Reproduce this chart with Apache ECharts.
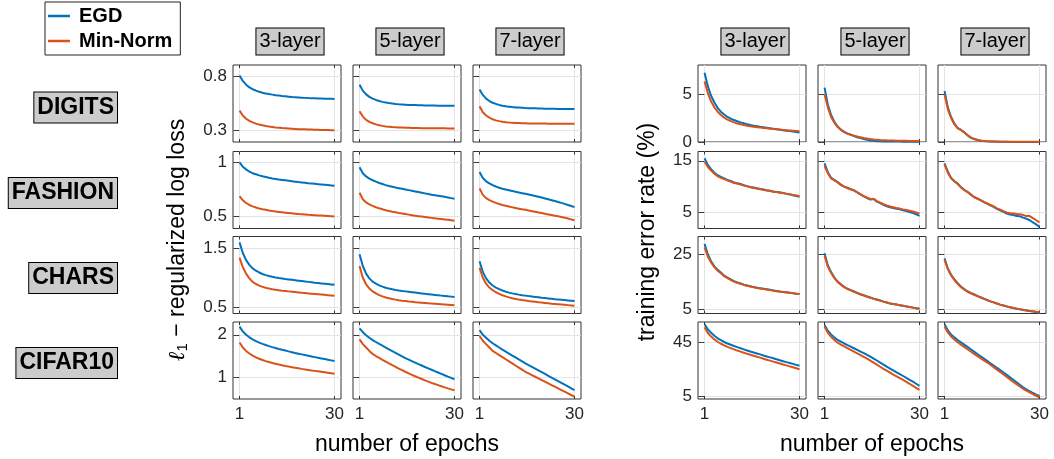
<!DOCTYPE html>
<html><head><meta charset="utf-8">
<script src="https://cdn.jsdelivr.net/npm/echarts@6/dist/echarts.min.js"></script>
<style>html,body{margin:0;padding:0;background:#fff}#c{width:1054px;height:459px}</style>
</head><body><div id="c"></div>
<script>
// ---------- DATA ----------
const epochs = [1,2,3,4,5,6,7,8,9,10,11,12,13,14,15,16,17,18,19,20,21,22,23,24,25,26,27,28,29,30];
const datasets = ['DIGITS','FASHION','CHARS','CIFAR10'];
const layers = ['3-layer','5-layer','7-layer'];
const methods = ['EGD','Min-Norm'];
const xTicks = [1,30];
const lossTicks = [[0.3,0.8],[0.5,1],[0.5,1.5],[1,2]];
const errTicks = [[0,5],[5,15],[5,25],[5,45]];
const lossRange = [[0.195,0.907],[0.39,1.1],[0.395,1.70],[0.49,2.3]];
const errRange = [[0,8],[1.9,16.8],[3.35,31.5],[3.3,59.9]];

// l1-regularized log loss, per dataset: [3-layer, 5-layer, 7-layer]
const loss_DIGITS_EGD = [
 [0.81,0.76,0.725,0.70,0.683,0.67,0.66,0.651,0.644,0.638,0.633,0.628,0.624,0.62,0.617,0.614,0.611,0.609,0.607,0.605,0.603,0.601,0.6,0.599,0.598,0.597,0.596,0.595,0.594,0.593],
 [0.724,0.67,0.635,0.612,0.596,0.584,0.574,0.566,0.56,0.555,0.551,0.547,0.544,0.542,0.54,0.538,0.537,0.536,0.535,0.534,0.533,0.533,0.532,0.532,0.531,0.531,0.531,0.53,0.53,0.53],
 [0.68,0.63,0.596,0.574,0.558,0.547,0.538,0.531,0.526,0.522,0.518,0.515,0.513,0.511,0.509,0.508,0.507,0.506,0.505,0.504,0.503,0.503,0.502,0.502,0.501,0.501,0.501,0.5,0.5,0.5]];
const loss_DIGITS_MN = [
 [0.485,0.44,0.41,0.39,0.376,0.365,0.356,0.349,0.343,0.338,0.334,0.33,0.327,0.324,0.322,0.32,0.318,0.316,0.314,0.313,0.312,0.311,0.31,0.309,0.308,0.307,0.306,0.305,0.304,0.303],
 [0.48,0.43,0.4,0.381,0.368,0.358,0.35,0.344,0.339,0.336,0.333,0.331,0.329,0.328,0.327,0.326,0.325,0.324,0.324,0.323,0.323,0.322,0.322,0.322,0.321,0.321,0.321,0.32,0.32,0.32],
 [0.525,0.47,0.44,0.42,0.405,0.395,0.388,0.382,0.378,0.375,0.373,0.371,0.37,0.369,0.368,0.367,0.366,0.366,0.365,0.365,0.365,0.364,0.364,0.364,0.364,0.363,0.363,0.363,0.363,0.363]];
const loss_FASHION_EGD = [
 [1.0,0.96,0.935,0.915,0.9,0.89,0.88,0.872,0.865,0.858,0.852,0.847,0.842,0.838,0.834,0.83,0.826,0.822,0.818,0.815,0.812,0.808,0.805,0.802,0.799,0.796,0.793,0.79,0.787,0.784],
 [0.954,0.9,0.87,0.85,0.835,0.822,0.81,0.8,0.79,0.782,0.775,0.768,0.762,0.756,0.75,0.744,0.738,0.732,0.726,0.72,0.714,0.708,0.702,0.697,0.692,0.687,0.682,0.676,0.67,0.664],
 [0.91,0.855,0.825,0.806,0.79,0.777,0.766,0.757,0.749,0.742,0.735,0.728,0.722,0.716,0.71,0.703,0.696,0.689,0.682,0.675,0.667,0.659,0.651,0.643,0.635,0.626,0.617,0.607,0.597,0.587]];
const loss_FASHION_MN = [
 [0.688,0.65,0.625,0.607,0.594,0.584,0.575,0.568,0.562,0.556,0.551,0.547,0.543,0.539,0.536,0.533,0.53,0.527,0.524,0.522,0.52,0.517,0.515,0.513,0.511,0.509,0.507,0.505,0.503,0.5],
 [0.72,0.66,0.63,0.612,0.598,0.586,0.576,0.567,0.559,0.552,0.545,0.539,0.533,0.528,0.523,0.518,0.513,0.508,0.504,0.5,0.496,0.492,0.488,0.484,0.481,0.478,0.474,0.47,0.466,0.462],
 [0.76,0.70,0.67,0.652,0.638,0.626,0.616,0.607,0.599,0.592,0.585,0.579,0.573,0.567,0.562,0.556,0.55,0.544,0.538,0.532,0.526,0.52,0.514,0.508,0.502,0.496,0.49,0.482,0.474,0.466]];
const loss_CHARS_EGD = [
 [1.6,1.42,1.3,1.22,1.16,1.12,1.09,1.065,1.045,1.03,1.017,1.006,0.996,0.988,0.98,0.973,0.966,0.959,0.952,0.945,0.938,0.931,0.924,0.917,0.911,0.905,0.899,0.893,0.887,0.881],
 [1.4,1.2,1.07,0.99,0.935,0.9,0.872,0.85,0.832,0.817,0.805,0.794,0.785,0.777,0.77,0.763,0.756,0.749,0.742,0.735,0.728,0.722,0.716,0.71,0.704,0.698,0.692,0.686,0.681,0.676],
 [1.28,1.1,0.99,0.92,0.87,0.835,0.807,0.784,0.765,0.749,0.736,0.725,0.715,0.706,0.698,0.69,0.683,0.676,0.669,0.662,0.656,0.65,0.644,0.638,0.633,0.628,0.623,0.617,0.611,0.605]];
const loss_CHARS_MN = [
 [1.34,1.18,1.07,0.99,0.93,0.895,0.868,0.847,0.83,0.817,0.806,0.797,0.789,0.782,0.776,0.77,0.764,0.758,0.752,0.746,0.741,0.736,0.731,0.726,0.721,0.716,0.711,0.706,0.701,0.696],
 [1.2,1.0,0.89,0.82,0.77,0.735,0.707,0.685,0.667,0.652,0.64,0.63,0.621,0.613,0.606,0.599,0.593,0.587,0.582,0.577,0.572,0.567,0.563,0.559,0.555,0.551,0.547,0.543,0.539,0.535],
 [1.17,1.0,0.9,0.835,0.79,0.755,0.727,0.704,0.685,0.668,0.654,0.642,0.632,0.623,0.615,0.607,0.6,0.593,0.586,0.58,0.574,0.568,0.562,0.557,0.552,0.547,0.542,0.537,0.532,0.527]];
const loss_CIFAR10_EGD = [
 [2.19,2.08,2.0,1.94,1.89,1.85,1.815,1.785,1.758,1.733,1.71,1.688,1.667,1.647,1.628,1.609,1.591,1.573,1.556,1.539,1.522,1.506,1.49,1.474,1.458,1.443,1.428,1.413,1.398,1.383],
 [2.15,2.06,1.99,1.93,1.875,1.83,1.785,1.742,1.70,1.658,1.616,1.575,1.534,1.493,1.453,1.417,1.381,1.346,1.311,1.277,1.243,1.21,1.177,1.144,1.112,1.08,1.048,1.016,0.985,0.955],
 [2.11,2.0,1.93,1.86,1.8,1.75,1.7,1.652,1.605,1.558,1.512,1.466,1.42,1.375,1.33,1.288,1.246,1.204,1.162,1.12,1.078,1.036,0.994,0.952,0.91,0.868,0.826,0.784,0.742,0.70]];
const loss_CIFAR10_MN = [
 [1.82,1.7,1.62,1.56,1.51,1.47,1.436,1.407,1.381,1.358,1.337,1.318,1.3,1.283,1.267,1.252,1.238,1.224,1.211,1.198,1.186,1.174,1.162,1.151,1.14,1.129,1.118,1.107,1.096,1.085],
 [1.89,1.78,1.7,1.62,1.55,1.5,1.455,1.412,1.37,1.328,1.287,1.246,1.206,1.167,1.13,1.094,1.059,1.025,0.992,0.96,0.929,0.899,0.87,0.842,0.815,0.789,0.764,0.74,0.717,0.695],
 [1.97,1.86,1.78,1.7,1.62,1.571,1.522,1.473,1.424,1.375,1.326,1.277,1.228,1.179,1.13,1.091,1.052,1.013,0.974,0.935,0.896,0.857,0.818,0.779,0.74,0.701,0.662,0.623,0.584,0.545]];

// training error rate (%), per dataset: [3-layer, 5-layer, 7-layer]
const err_DIGITS_EGD = [
 [7.2,5.8,4.8,4.1,3.55,3.15,2.85,2.6,2.42,2.28,2.15,2.04,1.94,1.85,1.77,1.7,1.64,1.58,1.53,1.48,1.43,1.38,1.33,1.28,1.23,1.18,1.13,1.08,1.03,0.98],
 [5.65,3.9,2.8,2.1,1.6,1.3,1.05,0.88,0.75,0.62,0.5,0.4,0.3,0.22,0.16,0.12,0.09,0.07,0.06,0.05,0.05,0.04,0.04,0.04,0.03,0.03,0.03,0.03,0.03,0.03],
 [5.3,3.6,2.6,1.9,1.45,1.25,1.0,0.7,0.45,0.3,0.2,0.14,0.1,0.07,0.05,0.04,0.03,0.02,0.02,0.02,0.01,0.01,0.01,0.01,0.01,0.01,0.01,0.01,0.01,0.01]];
const err_DIGITS_MN = [
 [6.3,5.1,4.2,3.6,3.15,2.8,2.53,2.33,2.17,2.04,1.93,1.84,1.76,1.69,1.63,1.58,1.54,1.5,1.46,1.42,1.38,1.35,1.32,1.29,1.26,1.23,1.2,1.17,1.14,1.11],
 [4.95,3.6,2.6,2.0,1.55,1.25,1.02,0.87,0.76,0.66,0.57,0.49,0.42,0.36,0.31,0.27,0.24,0.21,0.19,0.17,0.16,0.15,0.14,0.13,0.12,0.12,0.11,0.11,0.1,0.1],
 [4.95,3.4,2.5,1.85,1.45,1.25,1.02,0.72,0.48,0.33,0.23,0.16,0.11,0.08,0.06,0.05,0.04,0.03,0.03,0.03,0.02,0.02,0.02,0.02,0.02,0.02,0.02,0.02,0.02,0.02]];
const err_FASHION_EGD = [
 [15.5,14.2,13.4,12.7,12.2,11.9,11.6,11.3,11.1,10.8,10.65,10.5,10.3,10.1,9.95,9.85,9.7,9.55,9.45,9.3,9.2,9.05,8.95,8.85,8.75,8.6,8.5,8.35,8.2,8.05],
 [14.5,12.8,11.7,11.3,10.9,10.4,10.0,9.8,9.5,9.3,8.9,8.5,8.1,7.8,7.5,7.6,7.1,6.8,6.5,6.2,6.0,5.85,5.7,5.6,5.45,5.3,5.1,4.9,4.65,4.35],
 [14.5,12.9,11.7,11.1,10.6,9.9,9.4,9.0,8.5,8.0,7.7,7.4,7.0,6.7,6.4,6.1,5.7,5.4,5.1,4.8,4.6,4.5,4.3,4.25,4.0,3.8,3.5,3.1,2.7,2.2]];
const err_FASHION_MN = [
 [14.8,13.8,13.1,12.5,12.0,11.7,11.45,11.2,11.0,10.7,10.6,10.4,10.2,10.05,9.9,9.75,9.65,9.5,9.4,9.25,9.15,9.0,8.95,8.85,8.75,8.65,8.55,8.4,8.3,8.2],
 [14.0,12.6,11.6,11.2,10.8,10.3,10.0,9.7,9.5,9.25,8.9,8.5,8.15,7.85,7.6,7.65,7.2,6.9,6.6,6.35,6.15,6.0,5.85,5.75,5.6,5.5,5.35,5.2,5.0,4.8],
 [14.3,12.7,11.6,11.0,10.5,9.85,9.35,8.95,8.45,8.0,7.7,7.4,7.05,6.75,6.45,6.2,5.8,5.55,5.25,5.0,4.85,4.8,4.7,4.65,4.5,4.3,4.3,3.9,3.5,3.1]];
const err_CHARS_EGD = [
 [28.8,25.0,22.4,20.6,19.3,18.3,17.2,16.5,15.8,15.2,14.7,14.3,13.9,13.6,13.3,13.0,12.8,12.6,12.4,12.2,12.0,11.8,11.6,11.4,11.25,11.1,10.95,10.8,10.6,10.45],
 [25.4,21.0,18.5,16.5,15.0,14.0,13.1,12.4,11.9,11.4,10.9,10.4,10.0,9.6,9.2,8.8,8.45,8.1,7.7,7.35,7.0,6.8,6.6,6.4,6.15,5.9,5.7,5.5,5.3,5.1],
 [23.5,19.8,17.5,15.8,14.4,13.2,12.3,11.5,10.9,10.4,9.8,9.3,8.8,8.3,7.8,7.4,7.0,6.6,6.25,5.9,5.6,5.35,5.1,4.9,4.65,4.45,4.25,4.05,3.9,3.75]];
const err_CHARS_MN = [
 [27.5,24.2,22.0,20.3,19.0,18.1,17.0,16.3,15.6,15.0,14.6,14.2,13.8,13.5,13.2,12.95,12.7,12.5,12.3,12.1,11.9,11.7,11.5,11.35,11.2,11.05,10.9,10.75,10.6,10.45],
 [24.5,20.5,18.2,16.3,14.9,13.9,13.0,12.3,11.8,11.3,10.8,10.3,9.9,9.5,9.1,8.75,8.4,8.05,7.7,7.35,7.05,6.85,6.6,6.4,6.15,5.95,5.7,5.5,5.3,5.05],
 [23.0,19.6,17.3,15.6,14.2,13.0,12.1,11.3,10.7,10.2,9.7,9.2,8.7,8.25,7.8,7.4,7.0,6.6,6.25,5.95,5.65,5.4,5.15,4.95,4.7,4.5,4.3,4.15,3.95,3.8]];
const err_CIFAR10_EGD = [
 [58.2,54.5,52.0,49.8,47.9,46.5,45.2,44.1,43.2,42.3,41.4,40.6,39.8,39.0,38.2,37.5,36.8,36.1,35.3,34.6,33.9,33.2,32.5,31.8,31.1,30.4,29.8,29.1,28.4,27.7],
 [57.7,53.5,50.8,48.6,46.7,45.4,44.1,42.9,41.8,40.6,39.4,38.2,37.0,35.7,34.4,33.0,31.6,30.1,28.6,27.1,25.7,24.3,22.9,21.6,20.2,18.8,17.4,16.0,14.5,13.0],
 [58.2,53.8,50.8,48.6,46.7,45.0,43.3,41.6,39.9,38.1,36.4,34.7,33.0,31.3,29.6,27.9,26.2,24.5,22.8,21.0,19.2,17.4,15.6,13.8,11.9,10.4,9.0,7.7,6.5,5.5]];
const err_CIFAR10_MN = [
 [56.0,51.8,49.2,47.1,45.4,43.9,42.7,41.6,40.7,39.8,38.9,38.1,37.3,36.5,35.8,35.1,34.4,33.7,32.9,32.2,31.5,30.8,30.1,29.4,28.7,28.0,27.3,26.6,25.9,25.2],
 [56.5,52.0,49.0,46.7,44.7,43.3,42.0,40.7,39.4,38.1,36.8,35.5,34.2,32.9,31.5,30.0,28.5,27.0,25.5,24.1,22.7,21.3,20.0,18.6,17.3,15.9,14.5,13.0,11.5,10.0],
 [56.5,52.2,49.3,47.0,45.0,43.3,41.6,39.9,38.2,36.5,34.9,33.3,31.7,30.1,28.5,26.7,24.9,23.1,21.3,19.5,17.7,15.9,14.2,12.5,10.8,9.4,8.1,6.9,5.7,4.6]];

const lossData = [[loss_DIGITS_EGD,loss_DIGITS_MN],[loss_FASHION_EGD,loss_FASHION_MN],[loss_CHARS_EGD,loss_CHARS_MN],[loss_CIFAR10_EGD,loss_CIFAR10_MN]];
const errData = [[err_DIGITS_EGD,err_DIGITS_MN],[err_FASHION_EGD,err_FASHION_MN],[err_CHARS_EGD,err_CHARS_MN],[err_CIFAR10_EGD,err_CIFAR10_MN]];

// ---------- LAYOUT / STYLE ----------
const FONT = '"Liberation Sans", Arial, Helvetica, sans-serif';
const COLORS = ['#0072BD', '#D95319'];
const groups = [
  {cols:[233,353,473], data:lossData, ticks:lossTicks, range:lossRange},
  {cols:[698,818,938], data:errData, ticks:errTicks, range:errRange}
];
const rowTops = [65,151.5,236.5,322];
const PW = 108, PH = 77;
const AX = '#333333', TXT = '#262626', GRIDC = '#e3e3e3';

const option = {
  animation:false, backgroundColor:'#ffffff',
  grid:[], xAxis:[], yAxis:[], series:[], graphic:[],
  legend:{
    data:methods, left:45, top:2, orient:'vertical', selectedMode:false,
    icon:'rect', itemWidth:22, itemHeight:2.5, itemGap:5,
    padding:[4,8,4,3], borderColor:'#222', borderWidth:1, backgroundColor:'#fff',
    textStyle:{fontFamily:FONT, fontSize:20, fontWeight:'bold', color:'#000', padding:[0,0,0,4]}
  }
};

groups.forEach((g)=>{
  for(let r=0;r<4;r++){
    for(let c=0;c<3;c++){
      const gi = option.grid.length;
      option.grid.push({left:g.cols[c], top:rowTops[r], width:PW, height:PH, show:true,
        borderColor:AX, borderWidth:1, backgroundColor:'#fff'});
      const xi = option.xAxis.length;
      option.xAxis.push({gridIndex:gi, type:'value', min:-1, max:32, position:'bottom',
        axisLine:{show:false},
        axisTick:{show:true, inside:true, length:3, customValues:xTicks, lineStyle:{color:AX}},
        axisLabel:{show:r===3, customValues:xTicks, margin:7, color:TXT, fontSize:17, fontFamily:FONT},
        splitLine:{show:true, lineStyle:{color:GRIDC, width:1}}});
      option.xAxis.push({gridIndex:gi, type:'value', min:-1, max:32, position:'top',
        axisLine:{show:false},
        axisTick:{show:true, inside:true, length:3, customValues:xTicks, lineStyle:{color:AX}},
        axisLabel:{show:false}, splitLine:{show:false}});
      const yi = option.yAxis.length;
      option.yAxis.push({gridIndex:gi, type:'value', min:g.range[r][0], max:g.range[r][1], position:'left',
        axisLine:{show:false},
        axisTick:{show:true, inside:true, length:3, customValues:g.ticks[r], lineStyle:{color:AX}},
        axisLabel:{show:c===0, customValues:g.ticks[r], margin:6, color:TXT, fontSize:17, fontFamily:FONT},
        splitLine:{show:true, lineStyle:{color:GRIDC, width:1}}});
      option.yAxis.push({gridIndex:gi, type:'value', min:g.range[r][0], max:g.range[r][1], position:'right',
        axisLine:{show:false},
        axisTick:{show:true, inside:true, length:3, customValues:g.ticks[r], lineStyle:{color:AX}},
        axisLabel:{show:false}, splitLine:{show:false}});
      for(let m=0;m<2;m++){
        const vals = g.data[r][m][c];
        option.series.push({type:'line', name:methods[m], xAxisIndex:xi, yAxisIndex:yi,
          data:epochs.map((e,i)=>[e, vals[i]]), showSymbol:false, symbol:'none', clip:true,
          lineStyle:{color:COLORS[m], width:2}, itemStyle:{color:COLORS[m]}, z:2+m});
      }
    }
  }
  g.cols.forEach((x,c)=>{
    option.graphic.push({type:'text', x:x+PW/2+3, y:41.5, z:10, style:{text:layers[c],
      font:'20px '+FONT, fill:'#000', align:'center', verticalAlign:'middle',
      backgroundColor:'#cccccc', borderColor:'#000', borderWidth:1, padding:[3,3,3,3]}});
  });
});

// row labels
const rowLabelY = [107.5,193,278,363];
datasets.forEach((d,r)=>{
  option.graphic.push({type:'text', x:117, y:rowLabelY[r], z:10, style:{text:d,
    font:'bold 23px '+FONT, fill:'#000', align:'right', verticalAlign:'middle',
    backgroundColor:'#cccccc', borderColor:'#000', borderWidth:1, padding:[4,3,3,3]}});
});

// axis titles
option.graphic.push({type:'text', x:178, y:240, rotation:Math.PI/2, z:10, style:{
  text:'{l|ℓ}{s|1}{n| − regularized log loss}', align:'center', verticalAlign:'middle', fill:'#000',
  rich:{l:{font:'italic 23px "DejaVu Serif", serif', fill:'#000'}, s:{font:'15px '+FONT, fill:'#000', padding:[10,0,0,0]}, n:{font:'23px '+FONT, fill:'#000'}}}});
option.graphic.push({type:'text', x:648, y:232, rotation:Math.PI/2, z:10, style:{
  text:'training error rate (%)', font:'23px '+FONT, fill:'#000', align:'center', verticalAlign:'middle'}});
option.graphic.push({type:'text', x:407, y:445, z:10, style:{text:'number of epochs', font:'23px '+FONT, fill:'#000', align:'center', verticalAlign:'middle'}});
option.graphic.push({type:'text', x:872, y:445, z:10, style:{text:'number of epochs', font:'23px '+FONT, fill:'#000', align:'center', verticalAlign:'middle'}});

const chart = echarts.init(document.getElementById('c'), null, {renderer:'canvas'});
chart.setOption(option);
</script></body></html>
